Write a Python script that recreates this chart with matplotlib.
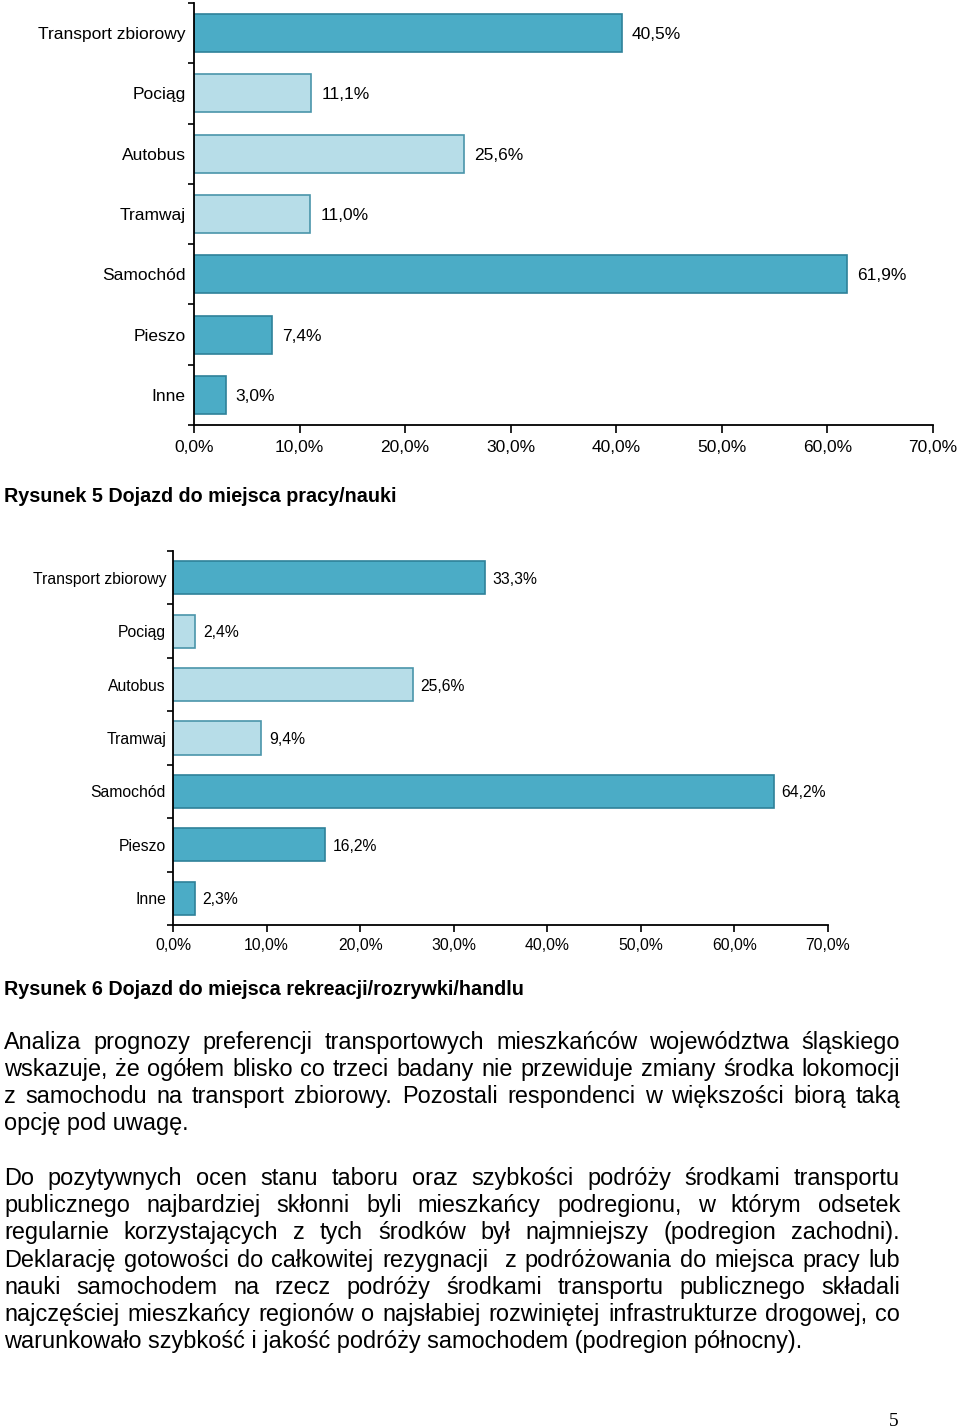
import matplotlib
matplotlib.use("Agg")
import matplotlib.pyplot as plt
import numpy as np

W, H = 960, 1427

categories = ['Transport zbiorowy', 'Pociąg', 'Autobus', 'Tramwaj', 'Samochód', 'Pieszo', 'Inne']
praca = [40.5, 11.1, 25.6, 11.0, 61.9, 7.4, 3.0]
rekreacja = [33.3, 2.4, 25.6, 9.4, 64.2, 16.2, 2.3]
is_light = [False, True, True, True, False, False, False]
x_ticks = [0, 10, 20, 30, 40, 50, 60, 70]

caption1 = 'Rysunek 5 Dojazd do miejsca pracy/nauki'
caption2 = 'Rysunek 6 Dojazd do miejsca rekreacji/rozrywki/handlu'

para1 = ['Analiza prognozy preferencji transportowych mieszkańców województwa śląskiego',
         'wskazuje, że ogółem blisko co trzeci badany nie przewiduje zmiany środka lokomocji',
         'z samochodu na transport zbiorowy. Pozostali respondenci w większości biorą taką',
         'opcję pod uwagę.']
para2 = ['Do pozytywnych ocen stanu taboru oraz szybkości podróży środkami transportu',
         'publicznego najbardziej skłonni byli mieszkańcy podregionu, w którym odsetek',
         'regularnie korzystających z tych środków był najmniejszy (podregion zachodni).',
         'Deklarację gotowości do całkowitej rezygnacji  z podróżowania do miejsca pracy lub',
         'nauki samochodem na rzecz podróży środkami transportu publicznego składali',
         'najczęściej mieszkańcy regionów o najsłabiej rozwiniętej infrastrukturze drogowej, co',
         'warunkowało szybkość i jakość podróży samochodem (podregion północny).']

DARK, DARK_EDGE = '#4BACC6', '#2F8199'
LIGHT, LIGHT_EDGE = '#B7DDE8', '#4A95AA'

plt.rcParams['font.family'] = ['Liberation Sans', 'DejaVu Sans']

fig = plt.figure(figsize=(W / 100, H / 100), dpi=100)


def fx(x):
    return x / W


def fy(y):
    return 1 - y / H


def bar_chart(left, right, top, bottom, values, fs, bar_h, lab_pad, val_off, tick_len, xpad):
    ax = fig.add_axes([fx(left), fy(bottom), fx(right - left), (bottom - top) / H])
    n = len(categories)
    y = np.arange(n)
    colors = [LIGHT if l else DARK for l in is_light]
    edges = [LIGHT_EDGE if l else DARK_EDGE for l in is_light]
    ax.barh(y, values, height=bar_h, color=colors, edgecolor=edges, linewidth=1.2)
    ax.set_xlim(0, 70)
    ax.set_ylim(n - 0.5, -0.5)
    ax.set_yticks(y)
    ax.set_yticklabels(categories, fontsize=fs)
    ax.set_yticks(np.arange(-0.5, n, 1), minor=True)
    ax.tick_params(axis='y', which='major', length=0, pad=lab_pad)
    ax.tick_params(axis='y', which='minor', length=4, width=1.2, direction='out')
    ax.set_xticks(x_ticks)
    ax.set_xticklabels([f'{t:.1f}%'.replace('.', ',') for t in x_ticks], fontsize=fs)
    ax.tick_params(axis='x', length=tick_len, width=1.2, pad=xpad)
    for s in ['top', 'right']:
        ax.spines[s].set_visible(False)
    for s in ['left', 'bottom']:
        ax.spines[s].set_linewidth(1.3)
    ax.patch.set_alpha(0)
    for yi, v in zip(y, values):
        ax.annotate(f'{v:.1f}%'.replace('.', ','), (v, yi), xytext=(val_off, 0),
                    textcoords='offset pixels', va='center_baseline', ha='left', fontsize=fs)
    return ax


bar_chart(194, 933, 3, 425, praca, 12.5, 0.63, 6, 10, 6, 5)
bar_chart(173, 828, 551, 925, rekreacja, 11.3, 0.62, 5, 8, 5, 4)

fig.text(fx(4), fy(502), caption1, fontsize=14.2, fontweight='bold', va='baseline')
fig.text(fx(4), fy(995), caption2, fontsize=14.2, fontweight='bold', va='baseline')

# justified paragraphs
renderer = fig.canvas.get_renderer()
LEFT, RIGHT, FS = 4, 900, 16.9


def justify(lines, y0, dy):
    for i, line in enumerate(lines):
        yb = y0 + i * dy
        if i == len(lines) - 1:
            fig.text(fx(LEFT), fy(yb), line, fontsize=FS, va='baseline')
            continue
        words = line.split(' ')
        texts = [fig.text(0, fy(yb), w, fontsize=FS, va='baseline') for w in words]
        widths = [t.get_window_extent(renderer).width if w else 0 for t, w in zip(texts, words)]
        gap = (RIGHT - LEFT - sum(widths)) / (len(words) - 1)
        x = LEFT
        for t, w in zip(texts, widths):
            t.set_x(fx(x))
            x += w + gap


justify(para1, 1049, 27)
justify(para2, 1185, 27.2)

fig.text(fx(894), fy(1425.5), '5', fontsize=14, family='Liberation Serif', ha='center', va='baseline')

fig.savefig('out.png', dpi=100)
